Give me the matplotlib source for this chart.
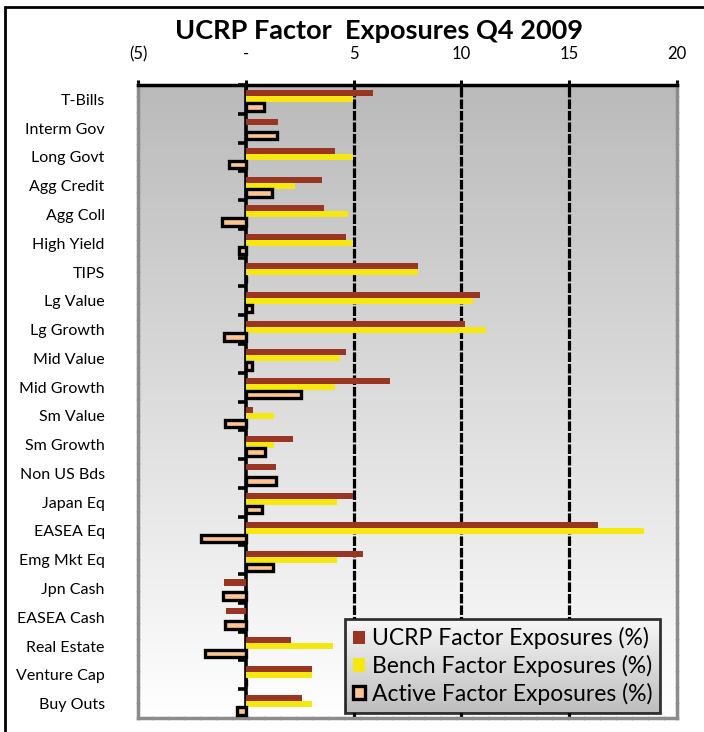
import numpy as np
import matplotlib
matplotlib.use("Agg")
import matplotlib.pyplot as plt
from matplotlib.colors import LinearSegmentedColormap
from matplotlib.patches import Patch, Rectangle
from matplotlib.ticker import FuncFormatter

# Factor names, top to bottom
factors = ["T-Bills", "Interm Gov", "Long Govt", "Agg Credit", "Agg Coll", "High Yield",
           "TIPS", "Lg Value", "Lg Growth", "Mid Value", "Mid Growth", "Sm Value",
           "Sm Growth", "Non US Bds", "Japan Eq", "EASEA Eq", "Emg Mkt Eq", "Jpn Cash",
           "EASEA Cash", "Real Estate", "Venture Cap", "Buy Outs"]

ucrp = [5.9, 1.5, 4.15, 3.55, 3.65, 4.65, 8.0, 10.85, 10.15, 4.65, 6.7, 0.35,
        2.2, 1.4, 4.95, 16.35, 5.45, -1.0, -0.9, 2.1, 3.05, 2.6]
bench = [4.95, 0.0, 4.95, 2.3, 4.75, 4.95, 8.0, 10.55, 11.15, 4.35, 4.15, 1.3,
         1.3, 0.0, 4.25, 18.45, 4.25, 0.0, 0.0, 4.05, 3.05, 3.05]
active = [0.85, 1.45, -0.8, 1.2, -1.1, -0.3, 0.0, 0.3, -1.0, 0.3, 2.55, -0.95,
          0.9, 1.4, 0.75, -2.1, 1.25, -1.05, -0.95, -1.9, 0.0, -0.4]

series_names = ["UCRP Factor Exposures (%)", "Bench Factor Exposures (%)",
                "Active Factor Exposures (%)"]
xticks = [-5, 0, 5, 10, 15, 20]

red = "#9a3521"
yellow = "#f4e80f"
peach = "#fcc58f"

plt.rcParams["font.family"] = ["Lato", "DejaVu Sans"]

fig = plt.figure(figsize=(7.04, 7.32), dpi=100)
ax = fig.add_axes([0.196, 0.0191, 0.7657, 0.8648])

y = np.arange(len(factors))

# gradient background of the plot area
bg = LinearSegmentedColormap.from_list("bg", ["#bababa", "#ffffff"])
ax.imshow(np.linspace(0, 1, 256).reshape(-1, 1), cmap=bg, extent=[0, 1, 0, 1],
          transform=ax.transAxes, aspect="auto", zorder=0)

ax.barh(y - 0.21, ucrp, height=0.21, color=red, zorder=3)
ax.barh(y, bench, height=0.21, color=yellow, zorder=3)
ax.barh(y + 0.26, active, height=0.26, color=peach, edgecolor="black",
        linewidth=2.4, zorder=4)

# dashed gridlines
for v in xticks[2:-1]:
    ax.axvline(v, color="black", lw=2.3, ls=(0, (3, 0.6)), zorder=2)

ax.set_xlim(-5, 20)
ax.set_ylim(len(factors) - 0.5, -0.5)

ax.xaxis.tick_top()
ax.set_xticks(xticks)
ax.xaxis.set_major_formatter(FuncFormatter(
    lambda v, p: "-" if v == 0 else ("(%d)" % abs(v) if v < 0 else "%d" % v)))
ax.tick_params(axis="x", direction="inout", length=7, width=2.2, pad=13,
               labelsize=12, color="black")

ax.set_yticks(y)
ax.set_yticklabels(factors, fontsize=11.5)
ax.tick_params(axis="y", length=0, pad=24)

ax.spines["top"].set_linewidth(2.5)
ax.spines["top"].set_color("black")
for s in ["left", "right", "bottom"]:
    ax.spines[s].set_color("#8c8c8c")
    ax.spines[s].set_linewidth(2.5)
    ax.spines[s].set_linestyle((0, (4, 0.6)))

# category axis crossing at zero
zero_ax = ax.secondary_yaxis(0.2)
zero_ax.spines["left"].set_linewidth(2.6)
zero_ax.set_yticks(np.arange(len(factors) + 1) - 0.5)
zero_ax.set_yticklabels([])
zero_ax.tick_params(axis="y", length=6, width=2.6, direction="out")

fig.text(0.538, 0.957, "UCRP Factor  Exposures Q4 2009", ha="center", va="center",
         fontsize=19.5, fontweight="bold")

handles = [Patch(facecolor=red), Patch(facecolor=yellow),
           Patch(facecolor=peach, edgecolor="black", linewidth=2.4)]
leg = ax.legend(handles, series_names, loc="lower right", bbox_to_anchor=(0.969, 0.008),
                borderaxespad=0, frameon=True, fancybox=False, handlelength=0.5,
                handleheight=0.5, handletextpad=0.3, labelspacing=0.25,
                borderpad=0.35, prop={"size": 16.5})
leg.get_frame().set_edgecolor("black")
leg.get_frame().set_linewidth(2)
leg.get_frame().set_facecolor("none")
leg.set_zorder(10)

# gradient behind legend
fig.canvas.draw()
bb = leg.get_window_extent().transformed(ax.transAxes.inverted())
lg = LinearSegmentedColormap.from_list("lg", ["#f7f7f7", "#bdbdbd"])
ax.imshow(np.linspace(0, 1, 256).reshape(-1, 1), cmap=lg,
          extent=[bb.x0, bb.x1, bb.y0, bb.y1], transform=ax.transAxes,
          aspect="auto", zorder=9)
ax.set_xlim(-5, 20)
ax.set_ylim(len(factors) - 0.5, -0.5)

# chart border
fig.add_artist(Rectangle((5 / 704, -0.1), 1.2, 1.1 - 7 / 732, transform=fig.transFigure,
                         fill=False, edgecolor="black", linewidth=2))

fig.savefig("out.png", dpi=100)
